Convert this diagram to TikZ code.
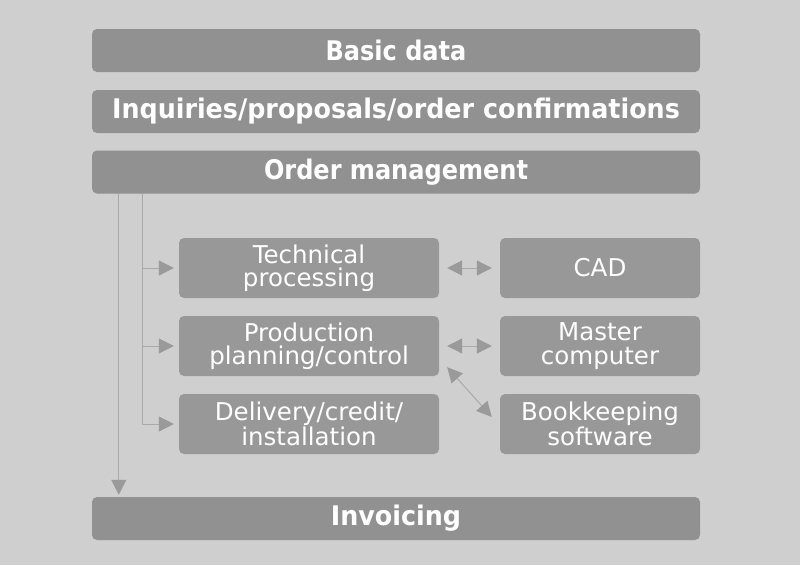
\documentclass[tikz,border=0pt]{standalone}
\usepackage{fontspec}
\setmainfont{DejaVu Sans}
\newfontfamily\hdrfont[FakeStretch=0.89]{DejaVu Sans}
\newfontfamily\hdrwidefont[FakeStretch=0.94]{DejaVu Sans}
\usepackage{tikz}
\usetikzlibrary{arrows.meta, positioning, calc}

\definecolor{bggray}{HTML}{CFCFCF}
\definecolor{boxgray}{HTML}{919191}
\definecolor{subgray}{HTML}{989898}
\definecolor{linegray}{HTML}{A9A9A9}
\definecolor{tipgray}{HTML}{9A9A9A}

\begin{document}
\begin{tikzpicture}[x=1pt, y=-1pt,
    hdr/.style={fill=boxgray, rounded corners=5pt, text=white, minimum width=608pt, minimum height=43pt, inner sep=0pt, font=\hdrfont\fontsize{27}{27}\selectfont\bfseries},
    hdrwide/.style={hdr, font=\hdrwidefont\fontsize{27}{27}\selectfont\bfseries},
    sub/.style={fill=subgray, rounded corners=5pt, text=white, minimum height=60pt, inner sep=0pt, align=center, font=\fontsize{24.5}{23.5}\selectfont},
    flow/.style={draw=linegray, line width=1pt, -{Triangle[length=15pt, width=15pt, color=tipgray, fill=tipgray]}},
    dbl/.style={draw=linegray, line width=1pt, {Triangle[length=15pt, width=15pt, color=tipgray, fill=tipgray]}-{Triangle[length=15pt, width=15pt, color=tipgray, fill=tipgray]}}]
\useasboundingbox (0,0) rectangle (800,565);
\fill[bggray] (0,0) rectangle (800,565);

% Main levels
\node[hdr] (basic) at (396,50.5) {Basic data};
\node[hdrwide] (inq) at (396,111.5) {Inquiries/proposals/order confirmations};
\node[hdr] (om) at (396,172) {Order management};
\node[hdrwide] (inv) at (396,518.5) {Invoicing};

% Order management tasks
\node[sub, minimum width=260pt] (tech) at (309,268) {Technical\\processing};
\node[sub, minimum width=260pt] (prod) at (309,346) {Production\\planning/control};
\node[sub, minimum width=260pt] (del) at (309,424) {Delivery/credit/\\installation};

% Connected systems
\node[sub, minimum width=200pt] (cad) at (600,268) {CAD};
\node[sub, minimum width=200pt] (master) at (600,346) {Master\\computer};
\node[sub, minimum width=200pt] (book) at (600,424) {Bookkeeping\\software};

% Flow to invoicing
\draw[flow, shorten >=2pt] ($(om.south west)+(27,0)$) -- ($(inv.north west)+(27,0)$);

% Branches
\draw[flow, shorten >=5pt] ($(om.south west)+(51,0)$) |- (tech.west);
\draw[flow, shorten >=5pt] ($(om.south west)+(51,0)$) |- (prod.west);
\draw[flow, shorten >=5pt] ($(om.south west)+(51,0)$) |- (del.west);

% Data exchange
\draw[dbl, shorten <=8pt, shorten >=8pt] (tech.east) -- (cad.west);
\draw[dbl, shorten <=8pt, shorten >=8pt] (prod.east) -- (master.west);
\draw[dbl] ([shift={(8,-9)}]prod.south east) -- ([shift={(-8,-7)}]book.west);
\end{tikzpicture}
\end{document}
